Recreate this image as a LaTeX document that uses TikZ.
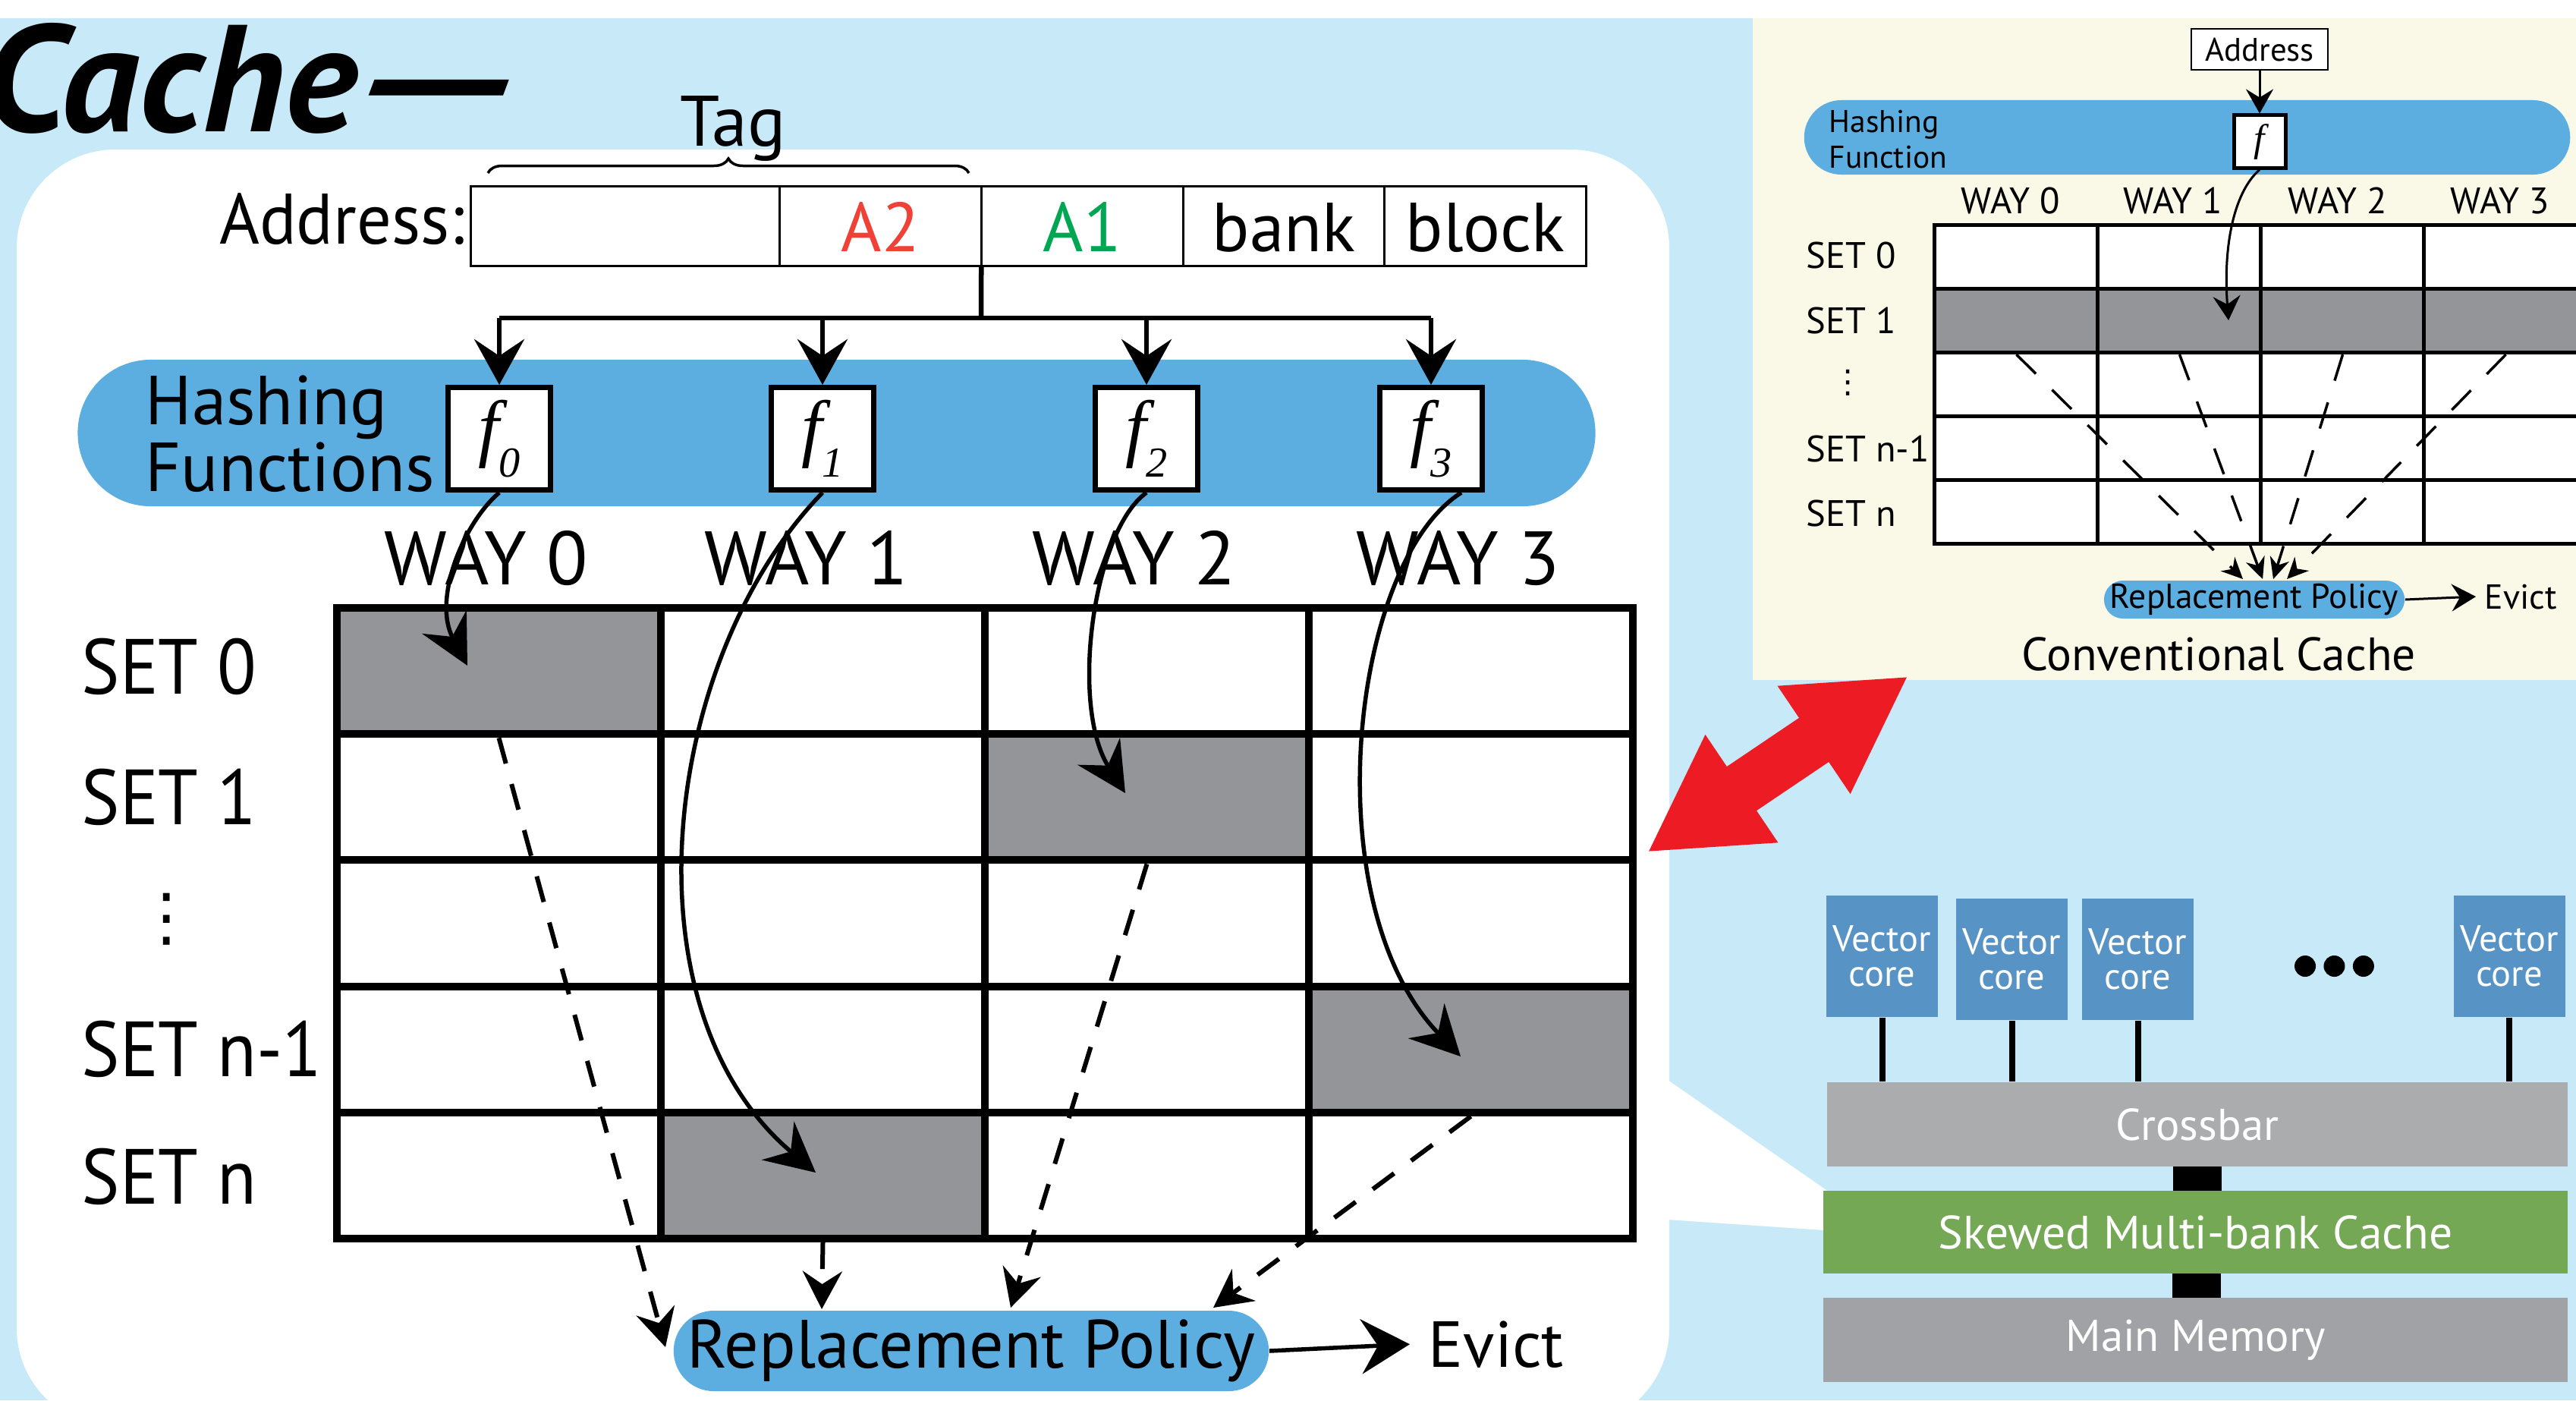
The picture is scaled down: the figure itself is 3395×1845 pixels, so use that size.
\documentclass[tikz,border=0pt]{standalone}
\usepackage{fontspec}
\setmainfont{PT Sans}
\newfontfamily\narrowfont{PT Sans}[FakeStretch=0.92]
\newfontfamily\serifit{Liberation Serif}
\newfontfamily\dotsfont{DejaVu Sans}
\usetikzlibrary{arrows.meta,decorations.pathreplacing,positioning}

\definecolor{skyback}{RGB}{199,233,248}
\definecolor{creamback}{RGB}{250,248,230}
\definecolor{bandblue}{RGB}{93,174,224}
\definecolor{cellgray}{RGB}{147,149,152}
\definecolor{hotred}{RGB}{237,28,36}
\definecolor{fieldred}{RGB}{239,65,54}
\definecolor{fieldgreen}{RGB}{0,166,81}
\definecolor{coreblue}{RGB}{88,147,198}
\definecolor{barlight}{RGB}{171,172,174}
\definecolor{memgray}{RGB}{161,162,165}
\definecolor{cachegreen}{RGB}{116,168,84}

\newcommand\fsz[2]{\fontsize{#1pt}{#2pt}\selectfont}
\newcommand\hashf[1]{{\serifit\itshape f}\raisebox{-0.32em}{\fsz{16}{16}\serifit\itshape #1}}
\newcommand\Colw{427}
\newcommand\Rowh{166.2}
\newcommand\sColw{215}
\newcommand\sRowh{83.8}

\tikzset{
  field/.style={
    shape = rectangle,
    draw,
    fill = white,
    line width = 0.03cm,
    minimum height = 1.05cm,
    inner sep = 0cm,
    outer sep = 0cm,
    text height = 0.66cm,
    text depth = 0cm,
    font = \fsz{26}{26}
  },
}
\tikzset{
  fbox/.style={
    shape = rectangle,
    draw,
    fill = white,
    line width = 0.07cm,
    minimum width = 1.34cm,
    minimum height = 1.35cm,
    inner sep = 0cm,
    font = \fsz{28}{28}
  },
}
\tikzset{
  cell/.style={
    shape = rectangle,
    draw,
    fill = white,
    line width = 0.1cm,
    minimum width = 4.27cm,
    minimum height = 1.662cm,
    inner sep = 0cm
  },
  scell/.style={
    cell,
    line width = 0.05cm,
    minimum width = 2.15cm,
    minimum height = 0.838cm
  },
}
\tikzset{
  band/.style={
    fill = bandblue,
    inner sep = 0cm
  },
  bus/.style={
    line width = 0.065cm
  },
  busarrow/.style={
    line width = 0.06cm,
    -{Stealth[length=0.6cm,width=0.66cm,inset=0.22cm]}
  },
  hasharrow/.style={
    line width = 0.055cm,
    -{Stealth[length=0.65cm,width=0.66cm,inset=0.22cm]}
  },
  dasharrow/.style={
    line width = 0.06cm,
    dash pattern = on 0.35cm off 0.28cm,
    -{Stealth[length=0.5cm,width=0.52cm,inset=0.17cm]}
  },
  evictarrow/.style={
    line width = 0.055cm,
    -{Stealth[length=0.64cm,width=0.72cm,inset=0.22cm]}
  },
  smallarrow/.style={
    line width = 0.03cm,
    -{Stealth[length=0.32cm,width=0.36cm,inset=0.11cm]}
  },
  smalldash/.style={
    line width = 0.035cm,
    dash pattern = on 0.36cm off 0.3cm,
    -{Stealth[length=0.28cm,width=0.26cm,inset=0.09cm]}
  },
  waylbl/.style={
    anchor = base,
    inner sep = 0cm,
    font = \fsz{28.4}{28.4}
  },
  setlbl/.style={
    anchor = base west,
    inner sep = 0cm,
    font = \narrowfont\fsz{29.3}{29.3}
  },
  swaylbl/.style={
    anchor = base,
    inner sep = 0cm,
    font = \fsz{13.8}{13.8}
  },
  ssetlbl/.style={
    anchor = base west,
    inner sep = 0cm,
    font = \fsz{13.8}{13.8}
  },
  layer/.style={
    shape = rectangle,
    inner sep = 0cm,
    text = white
  },
  core/.style={
    layer,
    fill = coreblue,
    minimum width = 1.47cm,
    minimum height = 1.6cm,
    align = center,
    font = \fsz{13.8}{13.1}
  },
  link/.style={
    shape = rectangle,
    fill = black,
    inner sep = 0cm,
    minimum width = 0.64cm
  },
  dot/.style={
    shape = circle,
    fill,
    inner sep = 0cm,
    minimum size = 0.28cm
  },
}

\begin{document}
\begin{tikzpicture}[x=0.01cm,y=-0.01cm]
        \useasboundingbox (0,0) rectangle (3395,1845);
        \clip (0,0) rectangle (3395,1845);

        \fill[white] (0,0) rectangle (3395,1845);
        \fill[skyback] (0,24) rectangle (3395,1845);
        \fill[creamback] (2310,24) rectangle (3395,896);
        \fill[white, rounded corners=1.3cm] (22,197) rectangle (2200,1880);
        \fill[white] (2198,1423) -- (2492,1627) -- (2198,1607) -- cycle;

        \node[anchor=base east, inner sep=0cm, font=\fsz{57}{57}\bfseries\itshape] (ttl) at (696,173) {\scalebox{1.02}[1]{Cache}\kern-5pt\scalebox{1.55}[1]{—}};

        % address fields
        \node[anchor=base, inner sep=0cm, font=\fsz{26.8}{26.8}] (tag) at (966,192) {Tag};
        \coordinate (tagL) at (643,228);
        \coordinate (tagR) at (1277,228);
        \draw[decorate, decoration={brace,amplitude=0.19cm}, line width=0.035cm] (tagL) -- (tagR);
        \node[anchor=base east, inner sep=0cm, font=\fsz{26.8}{26.8}] (addr) at (613,321) {\scalebox{0.96}[1]{Address:}};
        \node[field, minimum width=4.06cm] (ftag) at (824,298) {};
        \node[field, minimum width=2.66cm, right=0cm of ftag, text=fieldred] (fa2) {A2};
        \node[field, minimum width=2.66cm, right=0cm of fa2, text=fieldgreen] (fa1) {A1};
        \node[field, minimum width=2.65cm, right=0cm of fa1] (fbank) {bank};
        \node[field, minimum width=2.66cm, right=0cm of fbank] (fblock) {block};

        % hashing functions
        \node[band, rounded corners=0.96cm, minimum width=19.99cm, minimum height=1.93cm] (hash) at (1102.5,570.5) {};
        \node[anchor=base west, inner sep=0cm, align=left, font=\fsz{26}{23}] (hashtxt) at (191,647) {Hashing\\Functions};
        \node[fbox] (f0) at (658,578) {\hashf{0}};
        \node[fbox] (f1) at (1084,578) {\hashf{1}};
        \node[fbox] (f2) at (1511,578) {\hashf{2}};
        \node[fbox] (f3) at (1886,578) {\hashf{3}};

        \coordinate (hub) at (1293,419);
        \draw[bus] (fa1.south west) -- (hub);
        \draw[bus] (f0.north |- hub) -- (f3.north |- hub);
        \foreach \k in {0,...,3}
            \draw[busarrow] (f\k.north |- hub) -- (f\k.north);

        % grid
        \foreach \c in {0,...,3}
            \foreach \r in {0,...,4}
                \node[cell] (m\c\r) at ({657.5+\Colw*\c},{884.1+\Rowh*\r}) {};
        \foreach \c/\r in {0/0,2/1,3/3,1/4}
            \node[cell, fill=cellgray] at (m\c\r) {};

        \foreach \c/\x in {0/641,1/1063,2/1495,3/1922}
            \node[waylbl] (way\c) at (\x,770) {WAY \c};
        \foreach \r/\y/\t in {0/914/SET 0,1/1086/SET 1,3/1418/SET n-1,4/1586/SET n}
            \node[setlbl] (set\r) at (107,\y) {\t};
        \node[inner sep=0cm, font=\dotsfont\fsz{24}{24}] (vdots) at (220,1211) {⋮};

        \coordinate (t0) at (616,877);
        \coordinate (t1) at (1075,1545);
        \coordinate (t2) at (1483,1045);
        \coordinate (t3) at (1925,1392);
        \draw[hasharrow] (f0.south) .. controls (610,690) and (570,790) .. (t0);
        \draw[hasharrow] (f1.south) .. controls (870,870) and (820,1330) .. (t1);
        \draw[hasharrow] (f2.south) .. controls (1440,700) and (1410,930) .. (t2);
        \draw[hasharrow] ([xshift=0.4cm]f3.south) .. controls (1780,740) and (1730,1190) .. (t3);

        \node[band, rounded corners=0.53cm, minimum width=7.84cm, minimum height=1.06cm, font=\fsz{25.6}{25.6}] (rp) at (1280,1780) {Replacement Policy};
        \node[anchor=base west, inner sep=0cm, inner xsep=0.24cm, font=\fsz{24.4}{24.4}] (evict) at (1858,1801) {Evict};
        \draw[evictarrow] (rp.east) -- (evict.west);

        \coordinate (d0) at (877,1775);
        \coordinate (d1) at (1083,1725);
        \coordinate (d2) at (1332,1723);
        \coordinate (d3) at (1599,1723);
        \draw[dasharrow] (m00.south) -- (d0);
        \draw[dasharrow] (m14.south) -- (d1);
        \draw[dasharrow] (m21.south) -- (d2);
        \draw[dasharrow] (m33.south) -- (d3);

        % conventional cache
        \node[draw, fill=white, line width=0.02cm, minimum width=1.8cm, minimum height=0.54cm, inner sep=0cm, font=\fsz{12.2}{12.2}] (saddr) at (2978,65) {Address};
        \node[band, rounded corners=0.49cm, minimum width=10.09cm, minimum height=0.98cm] (shash) at (2882.5,181) {};
        \node[anchor=base west, inner sep=0cm, align=left, font=\fsz{11.8}{13.1}] (shashtxt) at (2410,221) {Hashing\\Function};
        \node[fbox, line width=0.05cm, minimum width=0.68cm, minimum height=0.69cm, font=\fsz{14.5}{14.5}] (sf) at (2978,186.5) {\serifit\itshape f};
        \draw[smallarrow] (saddr.south) -- (sf.north);

        \foreach \c in {0,...,3}
            \foreach \r in {0,...,4}
                \node[scell] (s\c\r) at ({2657.5+\sColw*\c},{338.9+\sRowh*\r}) {};
        \foreach \c in {0,...,3}
            \node[scell, fill=cellgray] at (s\c1) {};

        \foreach \c/\x in {0/2650,1/2864,2/3081,3/3295}
            \node[swaylbl] (sway\c) at (\x,281) {WAY \c};
        \foreach \r/\y/\t in {0/353/SET 0,1/439/SET 1,3/608/SET n-1,4/693/SET n}
            \node[ssetlbl] (sset\r) at (2380,\y) {\t};
        \node[inner sep=0cm, font=\dotsfont\fsz{12}{12}] (svdots) at (2436,504) {⋮};

        \coordinate (stip) at (2937,422);
        \draw[smallarrow] (sf.south) .. controls (2942,255) and (2930,330) .. (stip);

        \node[band, rounded corners=0.25cm, minimum width=3.96cm, minimum height=0.5cm, font=\fsz{13}{13}] (srp) at (2971,790) {Replacement Policy};
        \node[anchor=base west, inner sep=0cm, inner xsep=0.11cm, font=\fsz{13}{13}] (sevict) at (3263,802) {Evict};
        \draw[smallarrow] (srp.east) -- (sevict.west);

        \coordinate (e0) at (2956,763);
        \coordinate (e1) at (2982,763);
        \coordinate (e2) at (2996,763);
        \coordinate (e3) at (3014,763);
        \draw[smalldash] (s01.south) -- (e0);
        \draw[smalldash] (s11.south) -- (e1);
        \draw[smalldash] (s21.south) -- (e2);
        \draw[smalldash] (s31.south) -- (e3);

        \node[anchor=base, inner sep=0cm, font=\fsz{17.5}{17.5}] (conv) at (2924,883) {Conventional Cache};

        % red link
        \coordinate (rlo) at (2171,1123);
        \coordinate (rhi) at (2515,891);
        \draw[hotred, line width=0.7cm, {Triangle[length=1.5cm,width=1.6cm]}-{Triangle[length=1.5cm,width=1.6cm]}] (rlo) -- (rhi);

        % system
        \node[core] (core1) at (2480.5,1260) {Vector\\core};
        \node[core] (core2) at (2651.5,1264) {Vector\\core};
        \node[core] (core3) at (2817.5,1264) {Vector\\core};
        \node[core] (core4) at (3307,1260) {Vector\\core};
        \node[dot] (dot1) at (3038,1273) {};
        \node[dot, right=0.09cm of dot1] (dot2) {};
        \node[dot, right=0.09cm of dot2] (dot3) {};

        \node[layer, fill=barlight, minimum width=9.76cm, minimum height=1.11cm, font=\fsz{16.7}{16.7}] (xbar) at (2896,1481.5) {Crossbar};
        \node[layer, fill=cachegreen, minimum width=9.81cm, minimum height=1.09cm, font=\fsz{17.5}{17.5}] (smc) at (2893.5,1623.5) {Skewed Multi-bank Cache};
        \node[layer, fill=memgray, minimum width=9.81cm, minimum height=1.11cm, font=\fsz{16.7}{16.7}] (mem) at (2893.5,1765.5) {Main Memory};

        \foreach \k in {1,...,4}
            \draw[line width=0.08cm] (core\k.south) -- (core\k.south |- xbar.north);
        \node[link, minimum height=0.32cm] (link1) at (2896,1553) {};
        \node[link, minimum height=0.32cm] (link2) at (2895,1694) {};
\end{tikzpicture}
\end{document}
